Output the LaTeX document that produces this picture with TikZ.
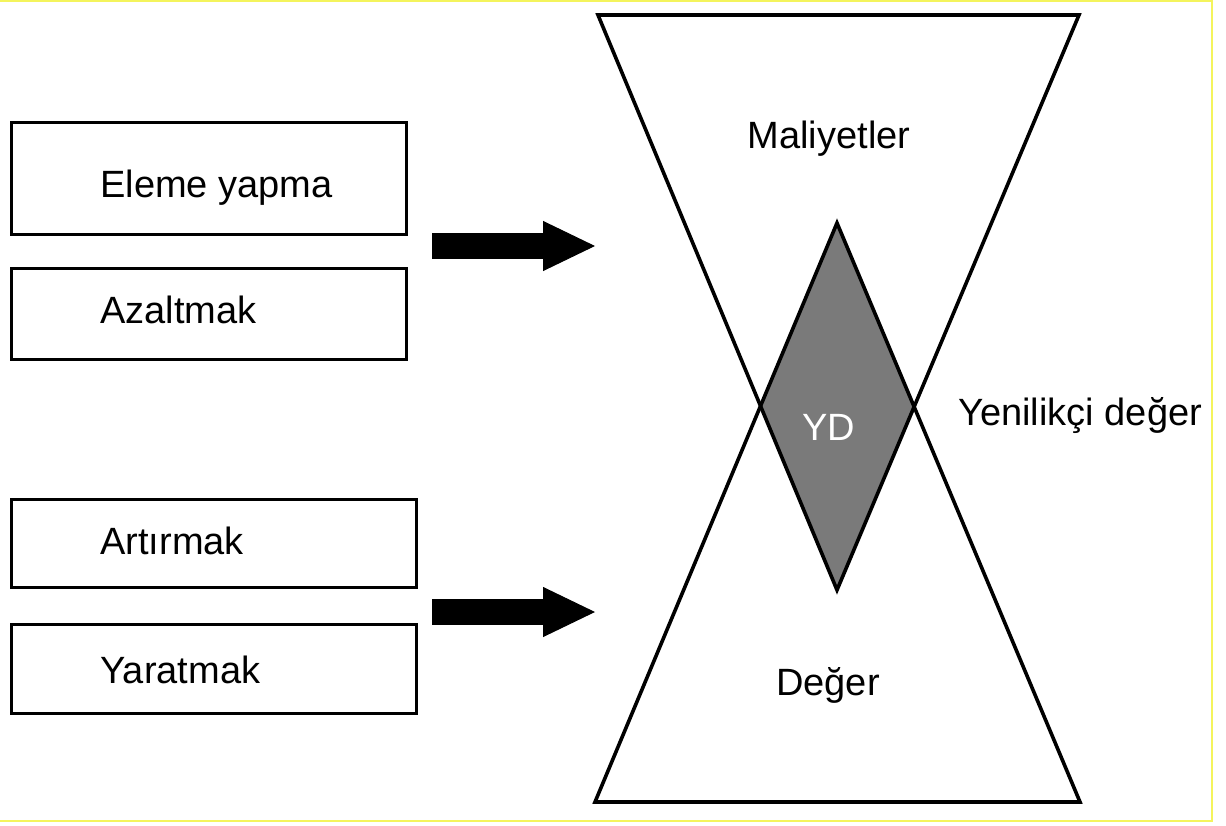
\documentclass[tikz,border=0pt]{standalone}
\usepackage{fontspec}
\setmainfont{Liberation Sans}
\usetikzlibrary{arrows.meta}
\definecolor{ydgray}{HTML}{7A7A7A}
\definecolor{scanedge}{HTML}{F4F45C}

\begin{document}
\begin{tikzpicture}[x=0.5pt,y=-0.5pt,font=\fontsize{19}{23}\selectfont,
  act box/.style={draw,line width=1.5pt,inner sep=0pt},
  act text/.style={anchor=base west,inner sep=0pt},
  mid text/.style={anchor=base,inner sep=0pt},
  big arrow/.style={line width=13pt,-{Triangle[length=26pt,width=25pt,line width=0.5pt]}},
  hg line/.style={line width=1.8pt,line join=miter}]
  \useasboundingbox (0,0) rectangle (1226,825);
  \draw[scanedge,line width=0.6pt] (0,1) -- (1212,1) -- (1212,821) -- (0,821);

  % action boxes
  \node[act box,minimum width=197.5pt,minimum height=56pt] (elim) at (208.5,178) {};
  \node[act box,minimum width=197.5pt,minimum height=45.5pt] (redu) at (208.5,313.5) {};
  \node[act box,minimum width=202.5pt,minimum height=44pt] (rais) at (213.5,543) {};
  \node[act box,minimum width=202.5pt,minimum height=44.5pt] (crea) at (213.5,668.5) {};
  \node[act text] (elimT) at (100,197) {Eleme yapma};
  \node[act text] (reduT) at (100,323) {Azaltmak};
  \node[act text] (raisT) at (100,554) {Artırmak};
  \node[act text] (creaT) at (100,683) {Yaratmak};

  % arrows
  \coordinate (costS) at (432,246);
  \coordinate (costE) at (595,246);
  \coordinate (valS) at (432,612);
  \coordinate (valE) at (595,612);
  \draw[big arrow] (costS) -- (costE);
  \draw[big arrow] (valS) -- (valE);

  % two triangles, overlap = YD
  \coordinate (tl) at (598,15);
  \coordinate (tr) at (1079,15);
  \coordinate (tapex) at (837,590);
  \coordinate (bl) at (595,802);
  \coordinate (br) at (1080,802);
  \coordinate (bapex) at (837,223);
  \begin{scope}
    \clip (tl) -- (tr) -- (tapex) -- cycle;
    \fill[ydgray] (bl) -- (br) -- (bapex) -- cycle;
  \end{scope}
  \draw[hg line] (tl) -- (tr) -- (tapex) -- cycle;
  \draw[hg line] (bl) -- (br) -- (bapex) -- cycle;

  \node[mid text] (cost) at (829,148) {Maliyetler};
  \node[mid text] (val) at (828,695) {Değer};
  \node[mid text,white] (yd) at (829,440) {YD};
  \node[act text] (inno) at (958,425) {Yenilikçi değer};
\end{tikzpicture}
\end{document}
